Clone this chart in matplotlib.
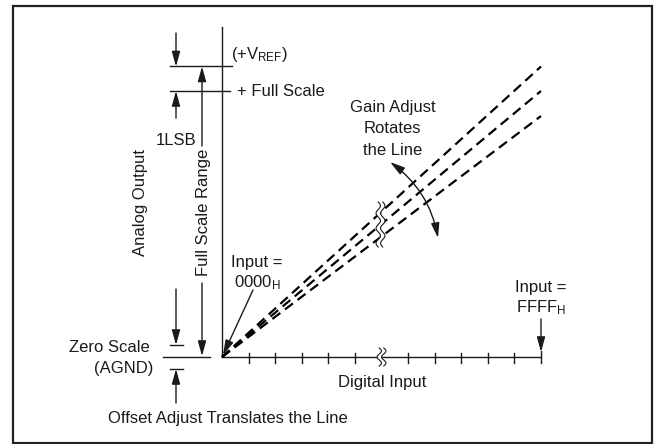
import numpy as np
import matplotlib.pyplot as plt
from matplotlib.patches import Rectangle, Polygon

plt.rcParams['font.family'] = 'Liberation Sans'
plt.rcParams['mathtext.fontset'] = 'custom'
plt.rcParams['mathtext.rm'] = 'Liberation Sans'

# diagram geometry (pixel coordinates of the 657x444 picture, y downwards)
origin = (222, 357)
x_end = 541
axis_top = 27
n_steps = 12          # tick intervals on the digital input axis
break_step = 6        # interval replaced by the axis break
line_end_y = [66.5, 91, 116]   # high gain, ideal, low gain
vref_y = 66.5
full_scale_y = 91
zero_y = 357
offset_marks_y = [345, 369]

ink = '#1a1a1a'
fs = 12

fig = plt.figure(figsize=(6.57, 4.44), dpi=100)
ax = fig.add_axes([0, 0, 1, 1])
ax.set_xlim(0, 657)
ax.set_ylim(444, 0)
ax.axis('off')

ax.add_patch(Rectangle((12.5, 6.5), 639, 436, fill=False, lw=1.6, ec='#222222'))

def arrow(start, tip, **kw):
    ax.annotate('', xy=tip, xytext=start,
                arrowprops=dict(arrowstyle='-|>,head_length=0.9,head_width=0.25',
                                lw=1.0, color=ink, shrinkA=0, shrinkB=0,
                                mutation_scale=10, **kw))

def squiggle(xc, y0, y1, n_waves, amp=2.2, gap=4.5):
    yy = np.linspace(y0, y1, 80)
    wave = amp * np.sin((yy - y0) / (y1 - y0) * n_waves * 2 * np.pi)
    left = xc - gap / 2 + wave
    right = xc + gap / 2 + wave
    pts = np.column_stack([np.r_[left, right[::-1]], np.r_[yy, yy[::-1]]])
    ax.add_patch(Polygon(pts, closed=True, fc='white', ec='none', zorder=4))
    ax.plot(left, yy, color=ink, lw=0.8, zorder=5)
    ax.plot(right, yy, color=ink, lw=0.8, zorder=5)

# axes
x0, y0 = origin
step = (x_end - x0) / n_steps
ax.plot([x0, x0], [axis_top, y0], color=ink, lw=1.0)
ax.plot([x0, x_end], [y0, y0], color=ink, lw=1.0)
for k in range(1, n_steps + 1):
    if k == break_step:
        continue
    xt = x0 + k * step
    ax.plot([xt, xt], [351 if k == n_steps else 353, 363], color=ink, lw=1.0)
squiggle(x0 + break_step * step, 348, 366, 1.5)

# transfer lines
for ye in line_end_y:
    ax.plot([x0, x_end], [y0, ye], color='black', lw=1.6, dashes=(4.5, 2.6),
            solid_capstyle='butt', zorder=3)
squiggle(380.5, 202, 247, 3)

# reference levels on the left
ax.plot([170, 232], [vref_y, vref_y], color=ink, lw=1.0)
ax.plot([170, 230], [full_scale_y, full_scale_y], color=ink, lw=1.0)
ax.plot([163, 210], [zero_y, zero_y], color=ink, lw=1.0)
for ym in offset_marks_y:
    ax.plot([170, 183], [ym, ym], color=ink, lw=1.0)

# arrows
arrow((176, 33), (176, vref_y))
arrow((176, 118), (176, full_scale_y))
arrow((202, 146), (202, vref_y))
arrow((202, 283), (202, zero_y - 1))
arrow((176, 289), (176, offset_marks_y[0]))
arrow((176, 403), (176, offset_marks_y[1]))
arrow((253, 290), (223, 355))
arrow((x_end, 319), (x_end, 352))
ax.annotate('', xy=(438, 238), xytext=(390, 162),
            arrowprops=dict(arrowstyle='<|-|>,head_length=0.9,head_width=0.25',
                            lw=1.0, color=ink, shrinkA=0, shrinkB=0,
                            mutation_scale=10, connectionstyle='arc3,rad=-0.2'))

# text
ax.text(231, 58.5, r'$\mathregular{(+V_{REF})}$', fontsize=fs, color=ink, va='baseline')
ax.text(237, 96, '+ Full Scale', fontsize=fs, color=ink, va='baseline')
ax.text(176, 145, '1LSB', fontsize=fs, color=ink, va='baseline', ha='center')
ax.text(141, 202, 'Analog Output', fontsize=fs, color=ink, rotation=90,
        ha='center', va='center')
ax.text(203.5, 212, 'Full Scale Range', fontsize=fs, color=ink, rotation=90,
        ha='center', va='center')
ax.text(109.5, 347, 'Zero Scale', fontsize=fs, color=ink, ha='center', va='center')
ax.text(124, 368, '(AGND)', fontsize=fs, color=ink, ha='center', va='center')
ax.text(227.5, 418, 'Offset Adjust Translates the Line', fontsize=fs, color=ink,
        ha='center', va='center')
ax.text(382, 382, 'Digital Input', fontsize=fs, color=ink, ha='center', va='center')
for yy, s in zip([107.5, 128.5, 150], ['Gain Adjust', 'Rotates', 'the Line']):
    ax.text(392.5, yy, s, fontsize=fs, color=ink, ha='center', va='center')
ax.text(257, 262, 'Input =', fontsize=fs, color=ink, ha='center', va='center')
ax.text(234, 287, r'$\mathregular{0000_H}$', fontsize=fs, color=ink, va='baseline')
ax.text(541, 287, 'Input =', fontsize=fs, color=ink, ha='center', va='center')
ax.text(516, 312, r'$\mathregular{FFFF_H}$', fontsize=fs, color=ink, va='baseline')

fig.savefig('out.png', dpi=100)
